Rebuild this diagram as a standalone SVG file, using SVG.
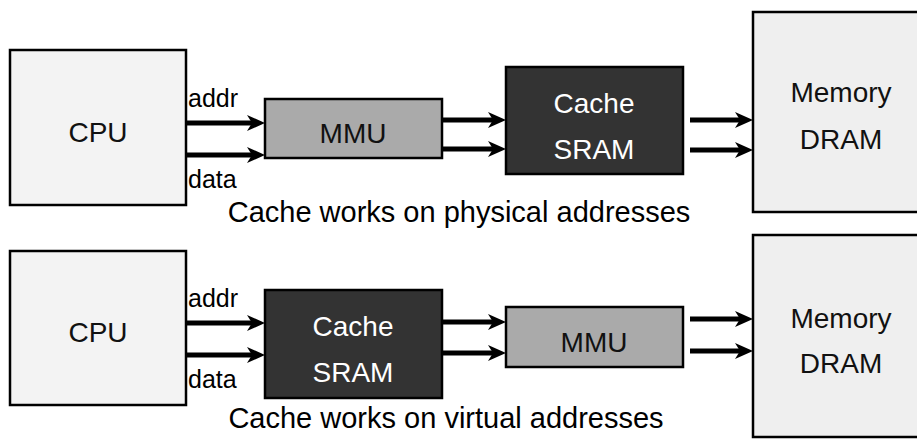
<svg xmlns="http://www.w3.org/2000/svg" width="917" height="440" viewBox="0 0 917 440">
<defs>
<marker id="ah" markerUnits="userSpaceOnUse" markerWidth="20" markerHeight="20" viewBox="0 0 20 20" refX="8" refY="10" orient="auto">
<path d="M0,2 L18,10 L0,18 L5,10 z" fill="#000"/>
</marker>
</defs>
<style>
.box{stroke:#000;stroke-width:2.5}
.light{fill:#f3f3f3}
.mem{fill:#efefef}
.mmu{fill:#aaaaaa}
.cache{fill:#333333}
text{font-family:"Liberation Sans",Arial,sans-serif;text-anchor:middle}
.t{font-size:28px;fill:#111}
.w{font-size:28px;fill:#fff}
.lbl{font-size:25px;text-anchor:start;fill:#000}
.cap{font-size:29px;fill:#000}
.c{stroke:#000;stroke-width:5;fill:none;marker-end:url(#ah)}
</style>
<g id="cpu1"><rect class="box light" x="10" y="50" width="176" height="155"/><text class="t" x="98" y="142">CPU</text></g>
<g id="mmu1"><rect class="box mmu" x="265" y="99" width="177" height="59"/><text class="t" x="353" y="143">MMU</text></g>
<g id="cache1"><rect class="box cache" x="506" y="67" width="177" height="107"/><text class="w" x="594" y="113">Cache</text><text class="w" x="594" y="159">SRAM</text></g>
<g id="mem1"><rect class="box mem" x="753" y="12" width="177" height="200"/><text class="t" x="841" y="102">Memory</text><text class="t" x="841" y="149">DRAM</text></g>
<g id="cpu2"><rect class="box light" x="10" y="251" width="176" height="154"/><text class="t" x="98" y="342">CPU</text></g>
<g id="cache2"><rect class="box cache" x="265" y="290" width="177" height="108"/><text class="w" x="353" y="336">Cache</text><text class="w" x="353" y="382">SRAM</text></g>
<g id="mmu2"><rect class="box mmu" x="506" y="307" width="177" height="60"/><text class="t" x="594" y="352">MMU</text></g>
<g id="mem2"><rect class="box mem" x="753" y="235" width="177" height="202"/><text class="t" x="841" y="328">Memory</text><text class="t" x="841" y="373">DRAM</text></g>
<g id="labels">
<text class="lbl" x="188" y="107">addr</text>
<text class="lbl" x="188" y="188">data</text>
<text class="lbl" x="188" y="307">addr</text>
<text class="lbl" x="188" y="388">data</text>
<text class="cap" x="459" y="222">Cache works on physical addresses</text>
<text class="cap" x="446" y="428">Cache works on virtual addresses</text>
</g>
<g id="connectors">
<line class="c" x1="186" y1="123" x2="255" y2="123"/>
<line class="c" x1="186" y1="155" x2="255" y2="155"/>
<line class="c" x1="442" y1="120" x2="496" y2="120"/>
<line class="c" x1="442" y1="149" x2="496" y2="149"/>
<line class="c" x1="690" y1="120" x2="743" y2="120"/>
<line class="c" x1="690" y1="150" x2="743" y2="150"/>
<line class="c" x1="186" y1="323" x2="255" y2="323"/>
<line class="c" x1="186" y1="355" x2="255" y2="355"/>
<line class="c" x1="442" y1="322" x2="496" y2="322"/>
<line class="c" x1="442" y1="353" x2="496" y2="353"/>
<line class="c" x1="690" y1="319" x2="743" y2="319"/>
<line class="c" x1="690" y1="351" x2="743" y2="351"/>
</g>
</svg>
